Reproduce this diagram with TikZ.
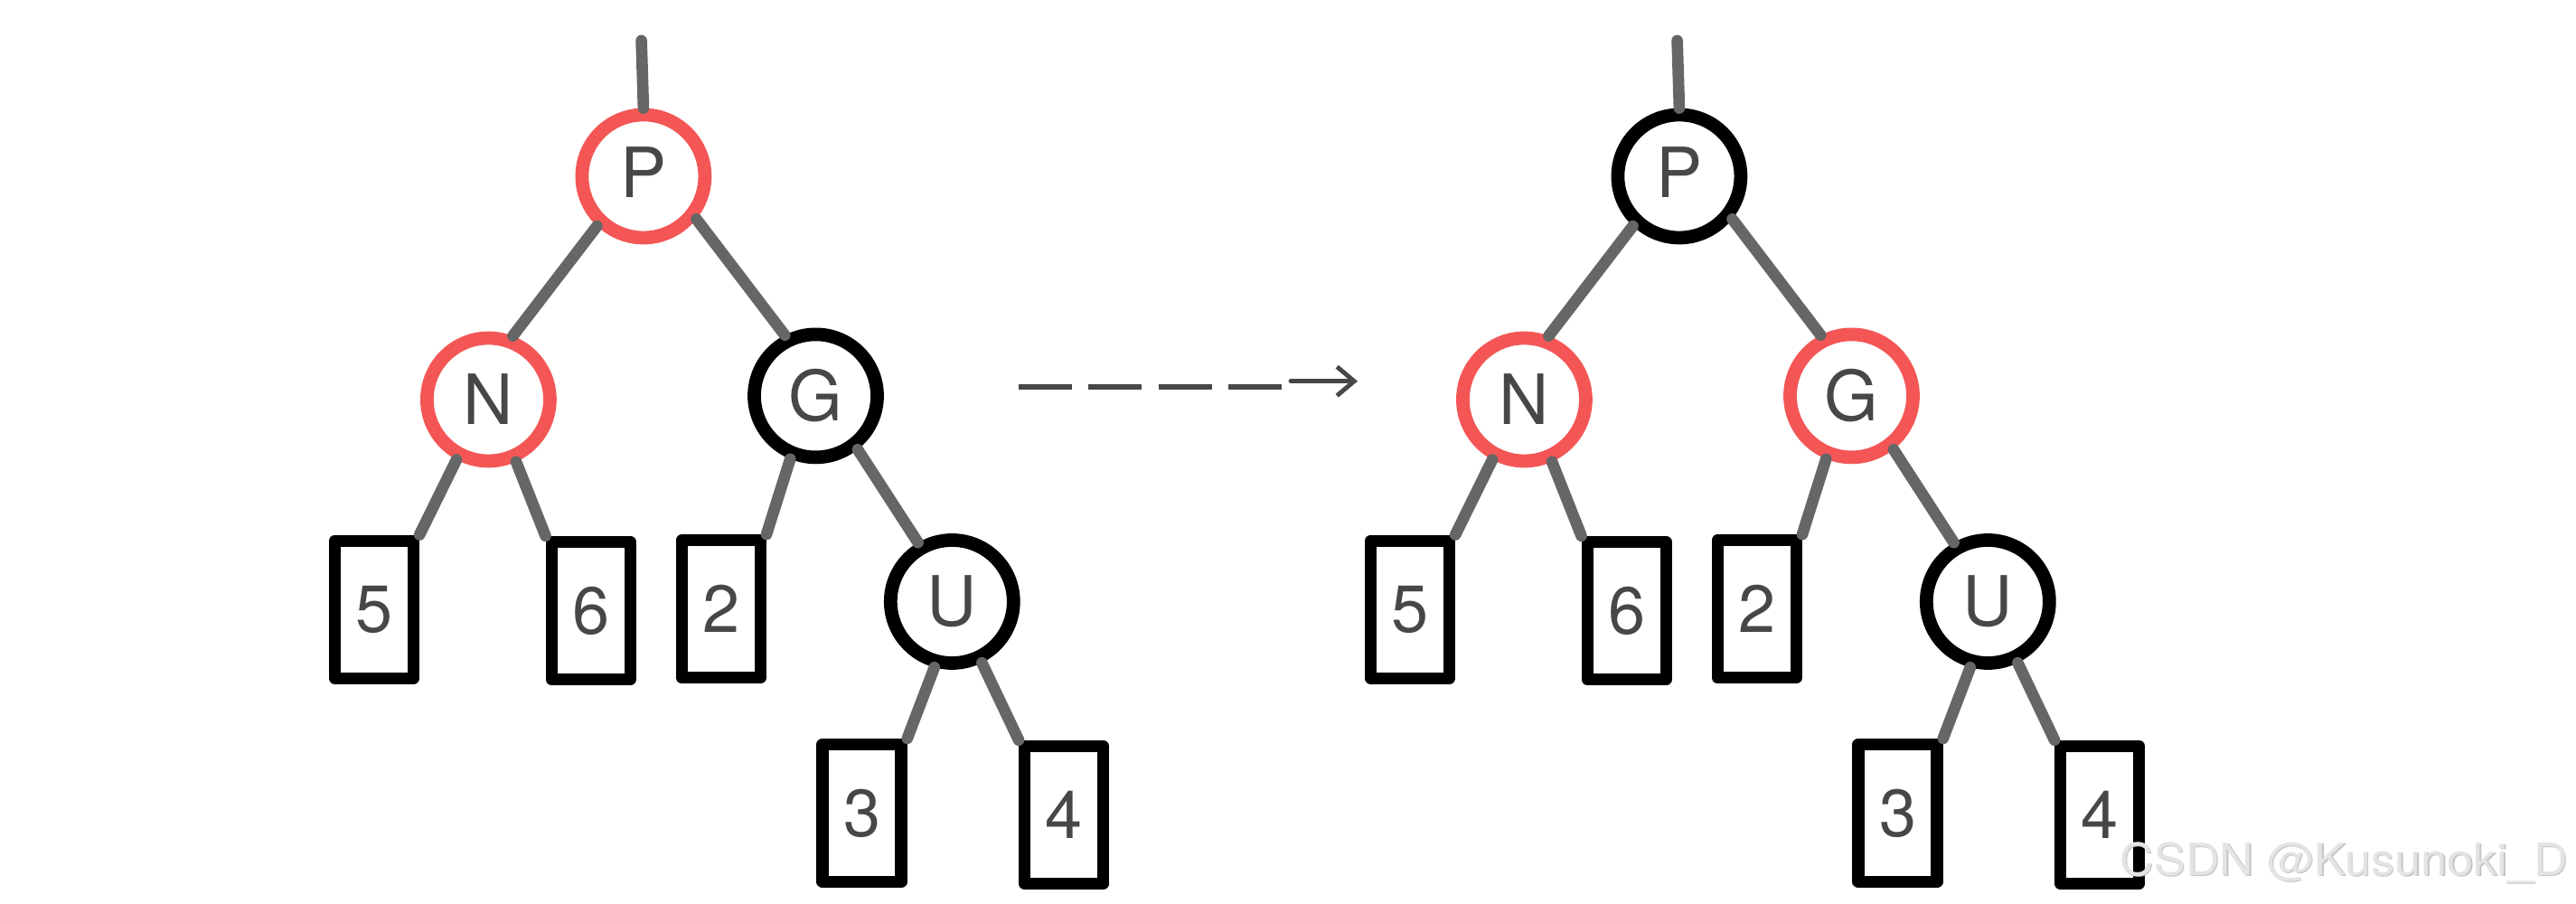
\documentclass[tikz,border=0pt]{standalone}
\usepackage{fontspec}
\setmainfont{TeX Gyre Heros}
\usetikzlibrary{arrows.meta}

\definecolor{vermelho}{HTML}{F45656}
\definecolor{cinza}{HTML}{666666}
\definecolor{texto}{HTML}{474747}
\definecolor{marca}{HTML}{E4E4E4}
\definecolor{sombra}{HTML}{C4C4C4}

\begin{document}
\begin{tikzpicture}[line cap=round,line join=round,
  preto/.style={circle,draw=black,line width=4.2pt,minimum size=1.36cm,inner sep=0pt,
    fill=white,text=texto,font=\fontsize{21.8}{26}\selectfont},
  rubro/.style={preto,draw=vermelho},
  folha/.style={rectangle,draw=black,line width=3.8pt,minimum width=0.87cm,minimum height=1.52cm,
    inner sep=0pt,fill=white,text=texto,font=\fontsize{21}{25}\selectfont},
  aresta/.style={draw=cinza,line width=3.6pt},
  marcatxt/.style={xscale=1.06,anchor=base west,inner sep=0pt,font=\fontsize{14}{17}\selectfont}]

\useasboundingbox (0,0) rectangle (28.5,10);

% deslocamento da segunda árvore
\def\d{11.46}

%---------------------------
% árvore da esquerda (antes)
%---------------------------
\coordinate (rl) at (7.096,9.55);
\node[rubro] (pl) at (7.119,8.05) {\raisebox{0.08cm}{P}};
\node[rubro] (nl) at (5.404,5.58) {N};
\node[preto] (gl) at (9.025,5.621) {G};
\node[preto] (ul) at (10.533,3.345) {U};
\node[folha] (b5l) at (4.14,3.258) {5};
\node[folha] (b6l) at (6.537,3.245) {6};
\node[folha] (b2l) at (7.978,3.262) {2};
\node[folha] (b3l) at (9.536,1.005) {3};
\node[folha] (b4l) at (11.772,0.986) {4};

\draw[aresta] (rl) -- (pl.north);
\draw[aresta] (pl.227) -- (nl.69);
\draw[aresta] (pl.321) -- (gl.117);
\draw[aresta] (nl.242) -- (b5l.north east);
\draw[aresta] (nl.294) -- (b6l.north west);
\draw[aresta] (gl.248) -- (b2l.north east);
\draw[aresta] (gl.308) -- (ul.120);
\draw[aresta] (ul.255) -- (b3l.north east);
\draw[aresta] (ul.296) -- (b4l.north west);

%---------------------------
% seta tracejada
%---------------------------
\coordinate (s1) at (11.267,5.717);
\coordinate (s2) at (14.177,5.717);
\coordinate (s3) at (14.28,5.783);
\coordinate (s4) at (15.02,5.783);
\draw[line cap=butt,draw=texto,line width=1.7pt,dash pattern=on 0.59cm off 0.185cm] (s1) -- (s2);
\draw[draw=texto,line width=1.4pt,-{Straight Barb[length=0.19cm,width=0.32cm]}] (s3) -- (s4);

%---------------------------
% árvore da direita (depois)
%---------------------------
\begin{scope}[xshift=\d cm]
\coordinate (rr) at (7.096,9.55);
\node[preto] (pr) at (7.119,8.05) {\raisebox{0.08cm}{P}};
\node[rubro] (nr) at (5.404,5.58) {N};
\node[rubro] (gr) at (9.025,5.621) {G};
\node[preto] (ur) at (10.533,3.345) {U};
\node[folha] (b5r) at (4.14,3.258) {5};
\node[folha] (b6r) at (6.537,3.245) {6};
\node[folha] (b2r) at (7.978,3.262) {2};
\node[folha] (b3r) at (9.536,1.005) {3};
\node[folha] (b4r) at (11.772,0.986) {4};

\draw[aresta] (rr) -- (pr.north);
\draw[aresta] (pr.227) -- (nr.69);
\draw[aresta] (pr.321) -- (gr.117);
\draw[aresta] (nr.242) -- (b5r.north east);
\draw[aresta] (nr.294) -- (b6r.north west);
\draw[aresta] (gr.248) -- (b2r.north east);
\draw[aresta] (gr.308) -- (ur.120);
\draw[aresta] (ur.255) -- (b3r.north east);
\draw[aresta] (ur.296) -- (b4r.north west);
\end{scope}

%---------------------------
% marca d'água
%---------------------------
\node[marcatxt,text=sombra] (wms) at (23.462,0.302) {CSDN @Kusunoki\_D};
\node[marcatxt,text=marca] (wm) at (23.45,0.31) {CSDN @Kusunoki\_D};

\end{tikzpicture}
\end{document}
